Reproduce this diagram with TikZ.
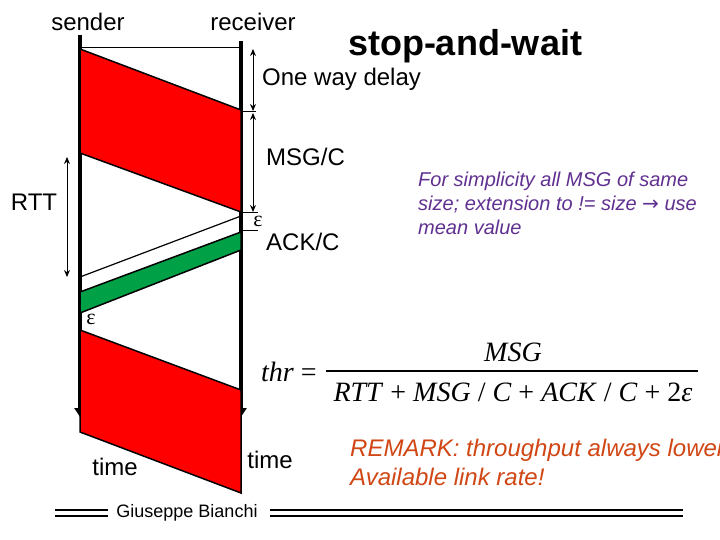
\documentclass[tikz,border=0pt]{standalone}
\usepackage{fontspec}
\setmainfont{Liberation Sans}
\newfontfamily\seriffont{Liberation Serif}
\usetikzlibrary{arrows.meta}
\definecolor{msgred}{RGB}{255,0,0}
\definecolor{ackgreen}{RGB}{0,160,70}
\definecolor{notepurple}{RGB}{96,48,144}
\definecolor{remarkorange}{RGB}{208,70,20}
\tikzset{
  lbl/.style={inner sep=0pt, font=\fontsize{24}{28}\selectfont},
  timeline/.style={line width=3.5pt, -{Triangle[length=9pt,width=11pt]}},
  dim/.style={line width=1pt, {Stealth[length=7pt,width=6pt]}-{Stealth[length=7pt,width=6pt]}},
  tick/.style={line width=1pt},
  pkt/.style={draw=black, line width=1.5pt, line join=miter},
  eps/.style={inner sep=0pt, font=\seriffont\fontsize{22}{24}\selectfont},
}
\begin{document}
\begin{tikzpicture}[x=1pt,y=-1pt]
\useasboundingbox (0,0) rectangle (720,540);
% coordinates
\coordinate (s0) at (80,35);
\coordinate (r0) at (241,41);
\coordinate (s1) at (80,417);
\coordinate (r1) at (241,417);
% titles
\node[lbl] (snd) at (88,22) {sender};
\node[lbl] (rcv) at (253,22) {receiver};
\node[inner sep=0pt, font=\bfseries\fontsize{36}{40}\selectfont] (title) at (465,46) {stop-and-wait};
% top line
\coordinate (tl) at (80,48);
\coordinate (tr) at (241,48);
\draw[line width=1pt] (tl) -- (tr);
% time lines
\draw[timeline] (s0) -- (s1);
\draw[timeline] (r0) -- (r1);
% first MSG
\coordinate (m1a) at (80,49);
\coordinate (m1b) at (241,110);
\coordinate (m1c) at (241,212);
\coordinate (m1d) at (80,153);
\fill[msgred, pkt] (m1a) -- (m1b) -- (m1c) -- (m1d) -- cycle;
% ACK region
\coordinate (a0r) at (241,216);
\coordinate (a0s) at (80,277);
\draw[line width=1.2pt] (a0r) -- (a0s);
\coordinate (g1) at (241,232);
\coordinate (g2) at (241,250);
\coordinate (g3) at (80,313);
\coordinate (g4) at (80,292);
\fill[ackgreen, pkt] (g1) -- (g2) -- (g3) -- (g4) -- cycle;
% second MSG
\coordinate (m2a) at (80,330);
\coordinate (m2b) at (241,390);
\coordinate (m2c) at (241,493);
\coordinate (m2d) at (80,432);
\fill[msgred, pkt] (m2a) -- (m2b) -- (m2c) -- (m2d) -- cycle;
% dimension arrows
\coordinate (ow1) at (253,49);
\coordinate (ow2) at (253,111);
\coordinate (mc1) at (253,113);
\coordinate (mc2) at (253,212);
\draw[dim] (ow1) -- (ow2);
\draw[dim] (mc1) -- (mc2);
\coordinate (tk1a) at (241,112);
\coordinate (tk1b) at (256,112);
\draw[tick] (tk1a) -- (tk1b);
\coordinate (tk2a) at (241,213);
\coordinate (tk2b) at (258,213);
\draw[tick] (tk2a) -- (tk2b);
\coordinate (tk3a) at (241,231);
\coordinate (tk3b) at (258,231);
\draw[tick] (tk3a) -- (tk3b);
\coordinate (rt1) at (67,157);
\coordinate (rt2) at (67,277);
\draw[dim] (rt1) -- (rt2);
% labels
\node[lbl, anchor=west] (owd) at (262,79) {One way delay};
\node[lbl, anchor=west] (msgc) at (266,157) {MSG/C};
\node[lbl] (rtt) at (34,202) {RTT};
\node[eps] (epsr) at (258,221) {ε};
\node[lbl, anchor=west] (ackc) at (266,242) {ACK/C};
\node[eps] (epss) at (91,319) {ε};
\node[lbl] (time1) at (115,467) {time};
\node[lbl] (time2) at (270,460) {time};
% note
\node[inner sep=0pt, anchor=west, align=left, text=notepurple, font=\itshape\fontsize{20}{24}\selectfont] (note) at (418,203) {For simplicity all MSG of same\\size; extension to != size {\fontspec{DejaVu Sans}→} use\\mean value};
% formula
\node[inner sep=0pt, anchor=base west, font=\seriffont\fontsize{28}{32}\selectfont] (thr) at (261,381) {\textit{thr} =};
\node[inner sep=0pt, anchor=base, font=\seriffont\fontsize{28}{32}\selectfont] (num) at (513,361) {\textit{MSG}};
\node[inner sep=0pt, anchor=base, font=\seriffont\fontsize{28}{32}\selectfont] (den) at (513,401) {\textit{RTT} + \textit{MSG} / \textit{C} + \textit{ACK} / \textit{C} + 2\textit{ε}};
\coordinate (fl) at (326,371);
\coordinate (fr) at (698,371);
\draw[line width=1.2pt] (fl) -- (fr);
% remark
\node[inner sep=0pt, anchor=north west, align=left, text=remarkorange, font=\itshape\fontsize{24}{29}\selectfont] (remark) at (350,439) {REMARK: throughput always lower\\Available link rate!};
% footer
\node[inner sep=0pt, font=\fontsize{18}{20}\selectfont] (gb) at (187,513) {Giuseppe Bianchi};
\coordinate (fa1) at (55,510);
\coordinate (fa2) at (108,510);
\coordinate (fb1) at (55,516);
\coordinate (fb2) at (108,516);
\draw[line width=1.5pt] (fa1) -- (fa2);
\draw[line width=1.5pt] (fb1) -- (fb2);
\coordinate (fc1) at (270,510);
\coordinate (fc2) at (683,510);
\coordinate (fd1) at (270,516);
\coordinate (fd2) at (683,516);
\draw[line width=1.5pt] (fc1) -- (fc2);
\draw[line width=1.5pt] (fd1) -- (fd2);
\end{tikzpicture}
\end{document}
